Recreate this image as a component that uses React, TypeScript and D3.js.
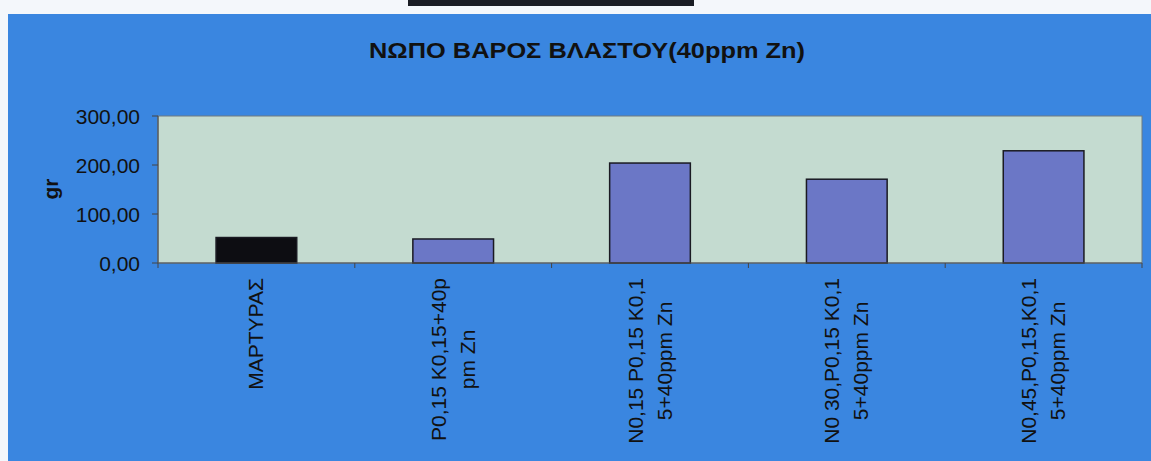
import React from "react";
import * as d3 from "d3";

const categories = [
  ["ΜΑΡΤΥΡΑΣ"],
  ["P0,15 K0,15+40p", "pm Zn"],
  ["N0,15 P0,15 K0,1", "5+40ppm Zn"],
  ["N0 30,P0,15 K0,1", "5+40ppm Zn"],
  ["N0,45,P0,15,K0,1", "5+40ppm Zn"],
];
const values = [52, 49, 204, 171, 229];
const barColors = ["#0d0d12", "#6b77c6", "#6b77c6", "#6b77c6", "#6b77c6"];
const yTicks = [0, 100, 200, 300];
const title = "ΝΩΠΟ ΒΑΡΟΣ ΒΛΑΣΤΟΥ(40ppm Zn)";
const yLabel = "gr";

const font = "'Liberation Sans', Arial, sans-serif";
const labelSize = 21;

function measure(s: string): number {
  if (typeof document === "undefined") return s.length * labelSize * 0.55;
  const c = document.createElement("canvas").getContext("2d");
  if (!c) return s.length * labelSize * 0.55;
  c.font = `${labelSize}px 'Liberation Sans', Arial, sans-serif`;
  return c.measureText(s).width;
}

export default function App() {
  const W = 1151, H = 461;
  const plot = { left: 158, right: 1142, top: 116, bottom: 263 };
  const x = d3.scaleBand<number>().domain(d3.range(categories.length)).range([plot.left, plot.right]).paddingInner(0.59).paddingOuter(0.295);
  const xOuter = d3.scaleBand<number>().domain(d3.range(categories.length)).range([plot.left, plot.right]);
  const y = d3.scaleLinear().domain([0, 300]).range([plot.bottom, plot.top]);
  const fmt = (v: number) => d3.format(".2f")(v).replace(".", ",");
  return (
    <svg width={W} height={H} style={{ position: "absolute", left: 0, top: 0, display: "block" }}>
      <rect x={0} y={0} width={W} height={H} fill="#f4f7fb" />
      <rect x={408} y={0} width={286} height={6} fill="#1a1d24" />
      <rect x={8} y={14} width={W - 8} height={H - 14} fill="#3a86e0" />
      <text x={587} y={58} textAnchor="middle" fontFamily={font} fontWeight="bold" fontSize={22} fill="#111" textLength={436} lengthAdjust="spacingAndGlyphs">{title}</text>
      <rect x={plot.left} y={plot.top} width={plot.right - plot.left} height={plot.bottom - plot.top} fill="#c4dbd0" stroke="#6e7a80" strokeWidth={1} />
      {values.map((v, i) => (
        <rect key={i} x={x(i)} y={y(v)} width={x.bandwidth()} height={plot.bottom - y(v)} fill={barColors[i]} stroke="#1a1a22" strokeWidth={1.5} />
      ))}
      <line x1={plot.left} x2={plot.right} y1={plot.bottom} y2={plot.bottom} stroke="#555" strokeWidth={1.2} />
      <line x1={plot.left} x2={plot.left} y1={plot.top} y2={plot.bottom} stroke="#555" strokeWidth={1.2} />
      {yTicks.map((t) => (
        <g key={t}>
          <line x1={plot.left - 6} x2={plot.left} y1={y(t)} y2={y(t)} stroke="#444" />
          <text x={140} y={y(t)} dy="0.36em" textAnchor="end" fontFamily={font} fontSize={21} fill="#111">{fmt(t)}</text>
        </g>
      ))}
      {d3.range(categories.length + 1).map((i) => {
        const xx = i < categories.length ? (xOuter(i) as number) : plot.right;
        return <line key={i} x1={xx} x2={xx} y1={plot.bottom} y2={plot.bottom + 5} stroke="#444" />;
      })}
      <text transform={`translate(58,189) rotate(-90)`} textAnchor="middle" fontFamily={font} fontWeight="bold" fontSize={21} fill="#111">{yLabel}</text>
      {categories.map((lines, i) => {
        const cx = (xOuter(i) as number) + xOuter.bandwidth() / 2;
        const lh = 29;
        const n = lines.length;
        const maxLen = Math.max(...lines.map(measure));
        const cy = 278 + maxLen / 2;
        return lines.map((ln, j) => {
          const bx = cx + (j - (n - 1) / 2) * lh + 7;
          return (
            <text key={`${i}-${j}`} transform={`translate(${bx},${cy}) rotate(-90)`} textAnchor="middle" fontFamily={font} fontSize={labelSize} fill="#111">{ln}</text>
          );
        });
      })}
    </svg>
  );
}
